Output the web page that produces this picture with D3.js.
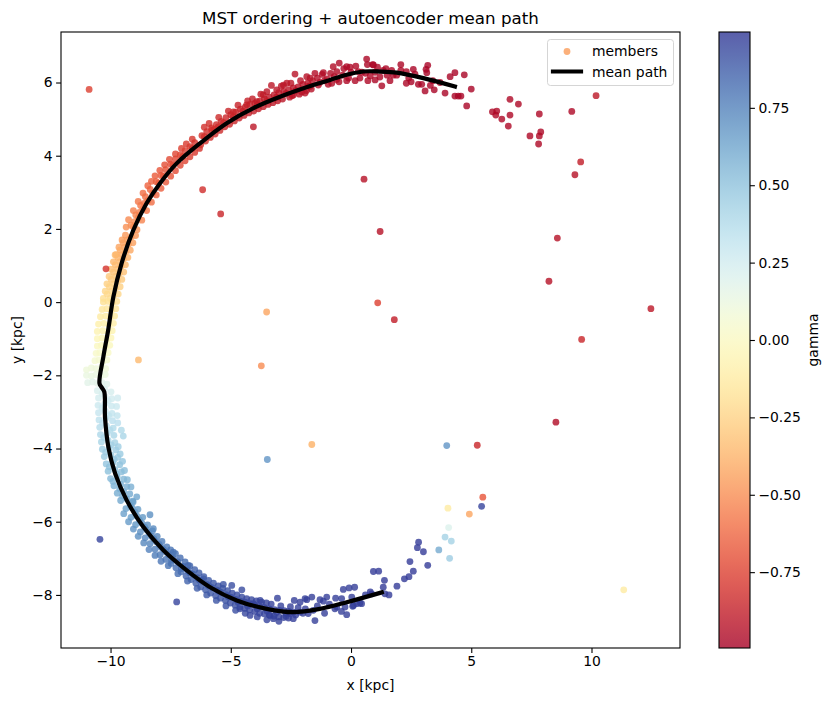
<!DOCTYPE html>
<html>
<head>
<meta charset="utf-8">
<script src="https://cdn.jsdelivr.net/npm/d3@7"></script>
<style>
  body { margin: 0; background: #fff; }
  text { font-family: "DejaVu Sans", sans-serif; fill: #000; }
</style>
</head>
<body>
<svg id="chart" width="830" height="701"></svg>
<script>
// ---- data ----
const xTicks = [-10, -5, 0, 5, 10];
const yTicks = [-8, -6, -4, -2, 0, 2, 4, 6];
const gammaTicks = [-0.75, -0.5, -0.25, 0, 0.25, 0.5, 0.75];
const gammaRange = [-0.995, 0.995];

// mean path (top-right end -> bottom end)
const pathX = [4.32, 3.01, 1.90, 1.21, 0.51, -0.18, -0.87, -1.57, -2.95, -4.06, -5.17, -6.28, -7.25, -7.94, -8.50, -9.05, -9.54, -9.88, -10.10, -10.30, -10.46, -10.37, -10.26, -10.23, -10.09, -9.81, -9.33, -8.64, -7.80, -6.83, -5.86, -4.75, -3.51, -2.40, -1.29, -0.18, 1.28];
const pathY = [5.89, 6.12, 6.27, 6.30, 6.30, 6.21, 6.07, 5.93, 5.61, 5.30, 4.89, 4.34, 3.79, 3.25, 2.70, 1.97, 1.06, 0.15, -0.77, -1.50, -2.22, -2.33, -2.45, -3.14, -3.96, -4.68, -5.41, -6.14, -6.78, -7.33, -7.79, -8.15, -8.38, -8.47, -8.38, -8.20, -7.93];

// members: [x, y, gamma]
const topTail = [
  [0.65,6.64,-.97],[0.68,6.49,-.97],[0.90,6.49,-.97],[1.28,5.91,-.97],[1.34,6.33,-.97],[1.62,6.05,-.97],[1.69,6.33,-.97],
  [2.07,6.49,-.97],[2.07,6.33,-.97],[2.59,6.36,-.98],[2.66,6.23,-.98],[2.80,5.95,-.98],[2.94,5.95,-.98],[3.08,5.77,-.98],
  [3.12,6.36,-.98],[3.19,6.47,-.98],[3.15,6.27,-.98],[3.46,5.80,-.98],[3.91,5.71,-.98],[4.12,6.16,-.98],[4.32,6.27,-.98],
  [4.32,5.63,-.98],[4.46,5.63,-.98],[4.57,5.63,-.98],[4.71,6.21,-.98],[4.81,5.36,-.98],[5.00,5.82,-.98],
  [-0.49,6.53,-.96],[-0.18,6.43,-.96],[-0.18,6.05,-.96],[0.17,6.05,-.96],[0.37,6.12,-.96],[-0.59,6.30,-.95],[-0.80,5.98,-.95],
  [1.0,6.07,-.97],[1.9,6.2,-.97],[2.3,6.3,-.97],[2.4,6.12,-.97],[1.5,6.2,-.97],[1.1,6.42,-.97],[0.3,6.3,-.96],[0.0,6.28,-.96],
  [-0.35,6.2,-.96],[-0.7,6.16,-.95],[-1.0,6.1,-.95],[-1.2,6.22,-.95],[-1.3,6.0,-.95],[-0.95,5.95,-.95],[-0.5,6.02,-.95],
  [0.6,6.25,-.96],[0.8,6.18,-.96],[1.2,6.15,-.97],[-1.7,5.9,-.94],[-0.74,6.43,-.95],[-0.04,6.42,-.96],[0.93,6.48,-.97],
  [-1.50,6.25,-.94],[-1.15,6.27,-.95],[-1.36,5.93,-.94],[2.3,5.98,-.97],[2.5,6.02,-.98],[3.4,6.05,-.98],[3.7,6.0,-.98],[3.3,5.92,-.98],
  [-1.4,6.12,-.94],[-1.1,6.05,-.95],[-0.85,6.25,-.95],[-0.6,6.08,-.95],[-0.3,6.38,-.96],[-0.1,6.12,-.96],[0.2,6.45,-.96],
  [0.45,6.28,-.96],[0.7,6.05,-.96],[1.0,6.28,-.97],[1.45,6.38,-.97],[1.75,6.2,-.97]
];

const upperArc = [
  [-1.6,6.05,-.93],[-1.65,5.82,-.93],[-1.8,5.98,-.93],[-1.85,5.78,-.93],[-2.0,5.95,-.92],[-2.05,5.74,-.92],[-2.2,5.88,-.92],
  [-2.15,5.68,-.92],[-2.4,5.85,-.92],[-2.45,5.64,-.91],[-2.6,5.80,-.91],[-2.55,5.60,-.91],[-2.8,5.76,-.91],[-2.85,5.55,-.91],
  [-3.0,5.72,-.9],[-3.05,5.50,-.9],[-3.2,5.66,-.9],[-3.25,5.45,-.9],[-3.4,5.60,-.9],[-3.45,5.40,-.89],[-3.6,5.55,-.89],
  [-3.65,5.34,-.89],[-3.8,5.49,-.89],[-3.85,5.28,-.88],[-4.0,5.43,-.88],[-4.05,5.22,-.88],
  [-3.31,5.92,-.9],[-2.67,5.98,-.91],[-2.33,6.23,-.92],[-1.84,6.16,-.93],[-1.91,5.71,-.93],[-2.40,5.66,-.92],[-2.81,5.93,-.91],
  [-3.09,5.80,-.9],[-3.65,5.66,-.89],[-3.92,5.48,-.89],
  [-4.2,5.40,-.87],[-4.25,5.17,-.87],[-4.4,5.33,-.87],[-4.45,5.10,-.86],[-4.6,5.27,-.86],[-4.65,5.03,-.86],[-4.8,5.19,-.85],
  [-4.85,4.95,-.85],[-5.0,5.12,-.85],[-5.05,4.86,-.84],[-5.2,5.04,-.84],[-5.25,4.79,-.84],[-5.4,4.94,-.83],[-5.45,4.69,-.83],
  [-5.6,4.85,-.82],[-5.65,4.59,-.82],[-5.8,4.76,-.81],[-5.85,4.50,-.81],[-6.0,4.66,-.81],[-6.05,4.40,-.81],[-6.2,4.55,-.8],
  [-6.25,4.30,-.8],[-4.34,5.39,-.87],[-4.89,5.20,-.85],[-5.52,4.79,-.83],[-5.79,4.70,-.81],
  [-6.5,4.36,-.8],[-6.3,4.2,-.8],[-6.7,4.25,-.78],[-6.5,4.09,-.78],[-6.9,4.14,-.76],[-6.7,3.97,-.76],[-7.1,4.02,-.74],
  [-6.9,3.86,-.74],[-7.3,3.91,-.73],[-7.1,3.74,-.73],[-7.5,3.77,-.71],[-7.3,3.59,-.71],[-7.7,3.62,-.69],[-7.5,3.44,-.69],
  [-7.9,3.46,-.67],[-7.7,3.28,-.67],[-8.1,3.29,-.65],[-7.9,3.11,-.65],
  [-8.35,3.08,-.63],[-8.1,2.93,-.63],[-8.55,2.88,-.6],[-8.3,2.73,-.6],[-8.75,2.64,-.57],[-8.5,2.50,-.57],[-8.95,2.38,-.53],
  [-8.7,2.24,-.53],[-9.15,2.10,-.5],[-8.9,1.98,-.49],[-8.25,2.98,-.62],[-8.45,2.77,-.59],[-8.65,2.55,-.55],[-8.85,2.30,-.52],
  [-9.05,2.05,-.5]
];

const upperFill = [
  [-1.7,6.12,-.93],[-2.1,6.05,-.92],[-2.5,5.98,-.91],[-2.9,5.9,-.91],[-3.5,5.75,-.9],[-3.75,5.68,-.89],[-4.1,5.55,-.88],
  [-1.75,5.9,-.93],[-2.3,5.78,-.92],[-2.7,5.7,-.91],[-3.1,5.6,-.9],[-3.5,5.5,-.89],[-3.9,5.38,-.88],
  [-4.3,5.5,-.87],[-4.7,5.38,-.86],[-5.1,5.22,-.85],[-5.5,5.05,-.83],[-5.9,4.88,-.81],[-6.1,4.78,-.81],
  [-4.5,5.22,-.86],[-4.9,5.07,-.85],[-5.3,4.9,-.84],[-5.7,4.72,-.82],[-6.1,4.52,-.81],
  [-6.6,4.45,-.79],[-6.85,4.32,-.77],[-7.05,4.2,-.75],[-7.3,4.05,-.73],[-7.55,3.9,-.72],[-7.75,3.75,-.7],[-7.95,3.6,-.68],
  [-8.15,3.45,-.66],[-8.3,3.3,-.64],[-6.6,4.2,-.79],[-7.0,3.98,-.75],[-7.4,3.75,-.72],[-7.8,3.45,-.68],[-8.0,3.25,-.65],
  [-8.45,3.18,-.63],[-8.65,2.98,-.6],[-8.85,2.75,-.57],[-9.05,2.5,-.54],[-9.25,2.25,-.51],[-9.35,2.05,-.49],
  [-8.6,2.7,-.58],[-8.8,2.45,-.54],[-9.0,2.2,-.51],
  [-9.52,1.7,-.45],[-9.65,1.5,-.42],[-9.77,1.3,-.39],[-9.88,1.1,-.36],[-9.98,0.9,-.32],[-10.06,0.7,-.29],[-10.15,0.5,-.26],
  [-10.22,0.3,-.23],[-10.3,0.1,-.19],[-9.3,1.7,-.45],[-9.42,1.5,-.42],[-9.52,1.3,-.39],[-9.62,1.1,-.35],[-9.72,0.9,-.32],
  [-9.8,0.7,-.29],[-9.88,0.5,-.26],[-9.96,0.3,-.22],[-10.02,0.1,-.19]
];

const leftArc = [
  [-9.38,1.83,-.46],[-9.14,1.78,-.46],[-8.96,1.82,-.47],[-9.48,1.62,-.43],[-9.25,1.58,-.43],[-9.07,1.62,-.44],
  [-9.6,1.42,-.4],[-9.36,1.38,-.4],[-9.18,1.42,-.41],[-9.7,1.22,-.37],[-9.46,1.18,-.37],[-9.28,1.22,-.38],
  [-9.8,1.02,-.34],[-9.56,0.98,-.34],[-9.38,1.02,-.35],[-9.88,0.82,-.31],[-9.63,0.78,-.31],[-9.45,0.82,-.32],
  [-9.97,0.62,-.28],[-9.71,0.58,-.28],[-9.53,0.62,-.29],[-10.05,0.42,-.25],[-9.79,0.38,-.25],[-9.6,0.42,-.26],
  [-10.14,0.22,-.22],[-9.86,0.18,-.22],[-9.68,0.22,-.23],
  [-10.3,0.0,-.18],[-10.1,0.02,-.18],[-9.92,-0.02,-.18],[-9.74,0.02,-.19],
  [-10.35,-0.2,-.15],[-10.15,-0.18,-.15],[-9.96,-0.22,-.15],[-9.78,-0.18,-.16],
  [-10.42,-0.4,-.12],[-10.2,-0.38,-.12],[-10.0,-0.42,-.12],[-9.83,-0.38,-.13],
  [-10.5,-0.6,-.09],[-10.28,-0.58,-.09],[-10.06,-0.62,-.09],[-9.88,-0.58,-.1],
  [-10.55,-0.8,-.06],[-10.32,-0.78,-.06],[-10.1,-0.82,-.06],[-9.93,-0.78,-.07],
  [-10.55,-1.0,-.03],[-10.35,-0.98,-.03],[-10.15,-1.02,-.03],[-9.98,-0.98,-.04],
  [-10.55,-1.2,0],[-10.38,-1.18,0],[-10.2,-1.22,0],[-10.03,-1.18,-.01],
  [-10.6,-1.4,.03],[-10.45,-1.38,.03],[-10.27,-1.42,.03],[-10.1,-1.38,.02],
  [-10.65,-1.6,.06],[-10.48,-1.58,.06],[-10.32,-1.62,.06],[-10.15,-1.58,.05],
  [-11.0,-1.85,.1],[-10.8,-1.8,.1],[-10.6,-1.82,.1],[-10.37,-1.78,.1],[-10.2,-1.82,.09],
  [-11.0,-2.0,.13],[-10.8,-2.02,.13],[-10.6,-1.98,.13],[-10.41,-2.02,.13],[-10.22,-1.98,.12],
  [-10.95,-2.2,.17],[-10.75,-2.18,.17],[-10.55,-2.22,.17],[-10.35,-2.2,.18],[-10.15,-2.24,.19],
  [-10.55,-2.42,.22],[-10.25,-2.38,.22],[-9.98,-2.45,.23],
  [-10.5,-2.62,.24],[-10.22,-2.58,.24],[-9.95,-2.64,.25],[-9.7,-2.62,.26],
  [-10.52,-2.82,.27],[-10.24,-2.78,.27],[-9.96,-2.84,.28],
  [-10.5,-3.02,.3],[-10.22,-2.98,.3],[-9.94,-3.04,.31],
  [-10.48,-3.22,.33],[-10.2,-3.18,.33],[-9.92,-3.24,.34],
  [-10.45,-3.42,.36],[-10.17,-3.38,.36],[-9.89,-3.44,.37],[-9.55,-3.5,.38],
  [-10.42,-3.62,.39],[-10.14,-3.58,.39],[-9.86,-3.64,.4],[-9.47,-3.66,.4],
  [-10.38,-3.82,.41],[-10.1,-3.78,.41],[-9.82,-3.84,.42],
  [-10.34,-4.02,.44],[-10.05,-3.98,.44],[-9.78,-4.04,.45],
  [-10.26,-4.22,.46],[-9.98,-4.18,.46],[-9.7,-4.24,.47],
  [-10.18,-4.42,.49],[-9.9,-4.38,.49],[-9.62,-4.44,.5],
  [-10.1,-4.62,.51],[-9.82,-4.58,.51],[-9.55,-4.64,.52],
  [-10.0,-4.82,.54],[-9.72,-4.78,.54],[-9.45,-4.84,.55],
  [-9.86,-5.02,.57],[-9.58,-4.98,.57],[-9.32,-5.04,.58],
  [-9.72,-5.22,.59],[-9.45,-5.18,.59],[-9.2,-5.24,.6],
  [-9.58,-5.42,.61],[-9.32,-5.38,.61],[-9.08,-5.44,.62]
];

const leftFill = [
  [-9.75,-2.85,.28],[-9.72,-3.1,.31],[-9.7,-3.3,.34],[-9.68,-3.95,.44],[-9.6,-4.15,.46],[-9.5,-4.35,.49],[-9.42,-4.6,.52],
  [-9.3,-4.85,.55],[-9.15,-5.05,.58],
  [-10.35,-2.5,.23],[-10.1,-2.7,.26],[-10.35,-2.9,.28],[-10.08,-3.1,.31],[-10.33,-3.3,.34],[-10.02,-3.5,.37],[-10.28,-3.7,.4],
  [-9.97,-3.9,.43],[-10.2,-4.1,.45],[-9.85,-4.3,.48],[-10.05,-4.5,.5],[-9.75,-4.7,.53],[-9.9,-4.9,.55],[-9.62,-5.1,.58],[-9.5,-5.3,.6]
];

const lowerArc = [
  [-9.36,-5.64,.63],[-9.18,-5.56,.63],[-9.06,-5.46,.63],[-9.15,-5.88,.65],[-8.98,-5.74,.65],[-8.86,-5.66,.65],
  [-8.96,-6.08,.67],[-8.8,-5.95,.67],[-8.66,-5.88,.67],[-8.76,-6.28,.7],[-8.58,-6.15,.7],[-8.46,-6.09,.7],
  [-8.56,-6.44,.72],[-8.4,-6.3,.72],[-8.26,-6.25,.72],[-8.36,-6.6,.74],[-8.2,-6.47,.74],[-8.06,-6.4,.74],
  [-8.15,-6.75,.76],[-7.98,-6.62,.76],[-7.86,-6.54,.76],[-7.94,-6.9,.78],[-7.8,-6.76,.78],[-7.66,-6.69,.78],
  [-7.7,-7.03,.79],[-7.58,-6.9,.79],[-7.5,-6.77,.79],[-7.48,-7.14,.81],[-7.38,-7.0,.81],[-7.3,-6.87,.8],
  [-7.28,-7.26,.82],[-7.2,-7.1,.82],[-7.1,-6.99,.82],[-7.07,-7.37,.83],[-6.98,-7.22,.83],[-6.9,-7.1,.83],
  [-6.86,-7.48,.85],[-6.8,-7.33,.85],[-6.7,-7.21,.84],[-6.65,-7.58,.86],[-6.58,-7.43,.86],[-6.5,-7.31,.86],
  [-6.45,-7.68,.87],[-6.4,-7.53,.87],[-6.32,-7.4,.87],[-6.25,-7.78,.88],[-6.2,-7.62,.88],[-6.12,-7.5,.88],
  [-6.05,-7.86,.88],[-6.0,-7.71,.88],[-5.92,-7.6,.88],[-5.84,-7.95,.89],[-5.78,-7.8,.89],[-5.72,-7.68,.89],
  [-5.63,-8.02,.9],[-5.6,-7.86,.9],[-5.52,-7.75,.9],[-5.43,-8.09,.9],[-5.4,-7.93,.9],[-5.33,-7.82,.9],
  [-5.22,-8.15,.91],[-5.2,-7.99,.91],[-5.13,-7.88,.91],[-5.02,-8.22,.92],[-5.0,-8.06,.92],[-4.94,-7.95,.92],
  [-4.82,-8.28,.92],[-4.8,-8.12,.92],[-4.74,-8.0,.92],[-4.62,-8.33,.93],[-4.6,-8.17,.93],[-4.54,-8.06,.93],
  [-4.42,-8.37,.94],[-4.4,-8.2,.94],[-4.34,-8.1,.94],[-4.22,-8.41,.94],[-4.2,-8.24,.94],[-4.14,-8.13,.94],
  [-4.0,-8.45,.95],[-4.0,-8.28,.95],[-3.94,-8.16,.95],[-3.8,-8.5,.95],[-3.8,-8.32,.95],[-3.72,-8.2,.95],
  [-3.6,-8.52,.95],[-3.6,-8.35,.95],[-3.52,-8.22,.95],[-3.4,-8.55,.96],[-3.4,-8.38,.96],[-3.32,-8.25,.96],
  [-3.2,-8.58,.96],[-3.18,-8.4,.96],[-3.0,-8.6,.96],[-2.98,-8.42,.96],[-2.92,-8.3,.96],
  [-2.8,-8.62,.96],[-2.78,-8.43,.96],[-2.6,-8.63,.97],[-2.6,-8.45,.97],[-2.52,-8.32,.97],[-2.4,-8.47,.97],
  [-8.36,-5.81,.7],[-8.22,-6.19,.72],[-8.91,-5.32,.62],[-7.39,-6.83,.8],[-6.77,-7.19,.84],[-6.14,-7.56,.87]
];

const lowerFill = [
  [-9.45,-5.78,.64],[-9.25,-6.0,.66],[-9.05,-6.2,.68],[-8.85,-6.4,.7],[-8.62,-6.58,.73],[-8.4,-6.76,.75],[-8.15,-6.92,.77],
  [-7.9,-7.08,.79],[-9.1,-5.62,.64],[-8.9,-5.85,.66],[-8.7,-6.04,.68],[-8.5,-6.22,.71],[-8.3,-6.4,.73],[-8.1,-6.55,.75],
  [-7.9,-6.7,.77],[-7.7,-6.83,.78],
  [-7.6,-7.2,.8],[-7.2,-7.42,.82],[-6.8,-7.62,.85],[-6.4,-7.82,.87],[-6.0,-8.0,.89],[-5.6,-8.15,.9],[-5.2,-8.3,.91],
  [-4.8,-8.42,.92],[-4.4,-8.5,.94],[-3.9,-8.6,.95],[-3.5,-8.68,.95],[-3.0,-8.72,.96],[-2.7,-8.58,.96],
  [-7.45,-7.05,.8],[-7.05,-7.28,.83],[-6.7,-7.4,.85],[-6.3,-7.6,.87],[-5.9,-7.76,.89],[-5.5,-7.9,.9],[-5.1,-8.05,.91],
  [-4.7,-8.2,.93],[-4.3,-8.3,.94],[-3.9,-8.38,.95],[-3.5,-8.44,.95],[-3.1,-8.48,.96],[-2.7,-8.5,.96],[-2.3,-8.55,.97],[-2.0,-8.5,.97]
];

const bottomTail = [
  [2.81,-6.56,.98],[2.76,-6.71,.98],[3.01,-6.82,.98],[2.45,-7.09,.98],[2.59,-7.35,.98],[3.19,-7.19,.98],[2.22,-7.56,.98],
  [2.41,-7.50,.98],[1.91,-7.76,.98],[1.39,-7.60,.98],[1.34,-7.79,.98],[1.41,-7.97,.98],[1.58,-8.0,.98],[0.93,-7.36,.98],
  [1.15,-7.35,.98],[0.86,-7.97,.98],[-0.32,-7.85,.97],[-0.08,-7.81,.97],[0.15,-7.79,.97],[0.03,-8.06,.97],[0.44,-8.24,.97],
  [0.24,-8.24,.97],[-0.18,-8.54,.97],[-0.25,-8.33,.97],[-0.64,-8.09,.97],[-0.67,-8.38,.97],[0.07,-8.31,.97],
  [-1.01,-8.06,.97],[-1.29,-8.13,.97],[-0.59,-8.33,.97],[0.37,-8.22,.97],[-1.50,-8.70,.97],[-2.40,-8.65,.97],
  [-3.23,-8.65,.96],[-3.37,-8.56,.96],[-2.54,-8.51,.97],[-1.78,-8.51,.97],[-2.12,-8.20,.97],[-1.84,-8.13,.97],
  [-3.06,-8.09,.96],[-3.78,-8.15,.95],[-4.06,-8.24,.95],[-4.54,-7.86,.93],[-4.96,-7.74,.92],[-5.31,-7.71,.91],
  [-4.20,-8.56,.95],[-4.62,-8.38,.94],[-2.36,-8.15,.97],[-1.91,-8.10,.97],[-1.63,-8.06,.97],[-1.15,-8.17,.97],
  [-0.39,-8.10,.97],[0.10,-8.29,.97],[-1.57,-8.42,.97],[-2.12,-8.47,.97],[-2.2,-8.35,.97],[-1.9,-8.38,.97],
  [-1.4,-8.3,.97],[-1.1,-8.5,.97],[-0.9,-8.25,.97],[-0.4,-8.45,.97],[0.6,-8.0,.97],[0.8,-7.92,.98]
];

const outliers = [
  [5.88,5.20,-.96],[6.06,5.22,-.96],[6.02,5.11,-.96],[6.27,5.0,-.96],[6.61,5.54,-.96],[6.61,5.11,-.96],[6.54,4.81,-.96],
  [6.96,5.41,-.96],[7.44,4.54,-.96],[7.83,5.14,-.96],[7.83,4.54,-.96],[7.89,4.65,-.96],[7.80,4.32,-.96],[9.18,5.21,-.96],
  [10.19,5.64,-.9],[9.55,3.83,-.88],[9.31,3.48,-.93],[0.54,3.36,-.93],[1.21,1.93,-.93],[8.58,1.75,-.93],[8.23,0.57,-.93],
  [1.80,-0.48,-.88],[12.47,-0.18,-.9],[1.11,-0.02,-.75],
  [-10.89,5.81,-.75],[-4.06,4.79,-.9],[-6.17,3.07,-.82],[-5.42,2.41,-.85],[-3.51,-0.27,-.42],[-9.81,1.29,-.35],
  [-10.19,0.91,-.8],[-8.84,-1.58,-.35],[-3.73,-1.74,-.5],[-1.63,-3.89,-.38],[-3.48,-4.30,.68],[-10.44,-6.48,.95],
  [-7.25,-8.19,.95],[9.59,-1.02,-.85],[8.52,-3.28,-.95],[3.98,-3.92,.68],[5.25,-3.91,-.85],[5.48,-5.33,-.68],
  [5.43,-5.58,.95],[4.03,-5.63,-.12],[4.92,-5.79,-.42],[4.06,-6.16,.2],[3.91,-6.42,.42],[4.17,-6.53,.42],
  [3.65,-6.77,.6],[4.10,-7.0,.45],[11.34,-7.86,-.12]
];

// ---- layout ----
const plot = { left: 61, right: 680, top: 32, bottom: 648 };
const cbar = { left: 719, right: 750 };

const svg = d3.select('#chart');

const xScale = d3.scaleLinear().domain([-12.06, 13.68]).range([plot.left, plot.right]);
const yScale = d3.scaleLinear().domain([-9.45, 7.38]).range([plot.bottom, plot.top]);
const gScale = d3.scaleLinear().domain(gammaRange).range([plot.bottom, plot.top]);
const color = d3.scaleSequential(d3.interpolateRdYlBu).domain(gammaRange);

svg.append('defs').append('clipPath').attr('id', 'clip')
  .append('rect')
  .attr('x', plot.left).attr('y', plot.top)
  .attr('width', plot.right - plot.left).attr('height', plot.bottom - plot.top);

// members
const members = [].concat(topTail, upperArc, upperFill, leftArc, leftFill, lowerArc, lowerFill, bottomTail, outliers);
svg.append('g')
  .attr('clip-path', 'url(#clip)')
  .selectAll('circle')
  .data(members)
  .enter()
  .append('circle')
  .attr('cx', d => xScale(d[0]))
  .attr('cy', d => yScale(d[1]))
  .attr('r', 3.4)
  .attr('fill', d => color(d[2]))
  .attr('fill-opacity', 0.8);

// mean path
const line = d3.line()
  .x(d => xScale(d[0]))
  .y(d => yScale(d[1]))
  .curve(d3.curveCatmullRom.alpha(0.5));
svg.append('path')
  .datum(pathX.map((x, i) => [x, pathY[i]]))
  .attr('d', line)
  .attr('fill', 'none')
  .attr('stroke', '#000')
  .attr('stroke-width', 4.2)
  .attr('stroke-linecap', 'square')
  .attr('stroke-linejoin', 'round');

// axes
const styleAxis = g => {
  g.select('.domain').remove();
  g.selectAll('.tick line').attr('stroke', '#000').attr('stroke-width', 1.1);
  g.selectAll('.tick text').attr('font-size', '13.9px').attr('font-family', '"DejaVu Sans", sans-serif').attr('fill', '#000');
};

svg.append('g')
  .attr('transform', `translate(0, ${plot.bottom})`)
  .call(d3.axisBottom(xScale).tickValues(xTicks).tickSize(4.9).tickPadding(3.5).tickSizeOuter(0))
  .call(styleAxis);

svg.append('g')
  .attr('transform', `translate(${plot.left}, 0)`)
  .call(d3.axisLeft(yScale).tickValues(yTicks).tickSize(4.9).tickPadding(3.5).tickSizeOuter(0))
  .call(styleAxis);

svg.append('rect')
  .attr('x', plot.left).attr('y', plot.top)
  .attr('width', plot.right - plot.left).attr('height', plot.bottom - plot.top)
  .attr('fill', 'none').attr('stroke', '#000').attr('stroke-width', 1.1);

// labels
svg.append('text')
  .attr('x', (plot.left + plot.right) / 2).attr('y', 24)
  .attr('text-anchor', 'middle').attr('font-size', '16.7px')
  .text('MST ordering + autoencoder mean path');

svg.append('text')
  .attr('x', (plot.left + plot.right) / 2).attr('y', 690)
  .attr('text-anchor', 'middle').attr('font-size', '13.9px')
  .text('x [kpc]');

svg.append('text')
  .attr('transform', `translate(22, ${(plot.top + plot.bottom) / 2}) rotate(-90)`)
  .attr('text-anchor', 'middle').attr('font-size', '13.9px')
  .text('y [kpc]');

// legend
const legend = svg.append('g').attr('id', 'legend');
legend.append('rect')
  .attr('x', 547.5).attr('y', 39.5).attr('width', 126).attr('height', 46).attr('rx', 3)
  .attr('fill', '#fff').attr('fill-opacity', 0.8)
  .attr('stroke', '#d5d5d5').attr('stroke-width', 1);
legend.append('circle')
  .attr('cx', 567).attr('cy', 51.5).attr('r', 3.4)
  .attr('fill', color(-0.45)).attr('fill-opacity', 0.8);
legend.append('text')
  .attr('x', 592).attr('y', 56).attr('font-size', '13.9px').text('members');
legend.append('line')
  .attr('x1', 553).attr('x2', 581).attr('y1', 71.5).attr('y2', 71.5)
  .attr('stroke', '#000').attr('stroke-width', 4.2).attr('stroke-linecap', 'square');
legend.append('text')
  .attr('x', 592).attr('y', 76.5).attr('font-size', '13.9px').text('mean path');

// colorbar
const grad = svg.select('defs').append('linearGradient')
  .attr('id', 'cbar-grad')
  .attr('x1', 0).attr('y1', 1).attr('x2', 0).attr('y2', 0);
d3.range(0, 1.0001, 0.02).forEach(t => {
  grad.append('stop')
    .attr('offset', t)
    .attr('stop-color', d3.interpolateRdYlBu(t))
    .attr('stop-opacity', 0.8);
});
svg.append('rect')
  .attr('x', cbar.left).attr('y', plot.top)
  .attr('width', cbar.right - cbar.left).attr('height', plot.bottom - plot.top)
  .attr('fill', 'url(#cbar-grad)')
  .attr('stroke', '#000').attr('stroke-width', 1.1);

svg.append('g')
  .attr('transform', `translate(${cbar.right}, 0)`)
  .call(d3.axisRight(gScale).tickValues(gammaTicks).tickFormat(d3.format('.2f')).tickSize(4.9).tickPadding(3.5).tickSizeOuter(0))
  .call(styleAxis);

svg.append('text')
  .attr('transform', `translate(818, ${(plot.top + plot.bottom) / 2}) rotate(-90)`)
  .attr('text-anchor', 'middle').attr('font-size', '13.9px')
  .text('gamma');
</script>
</body>
</html>
